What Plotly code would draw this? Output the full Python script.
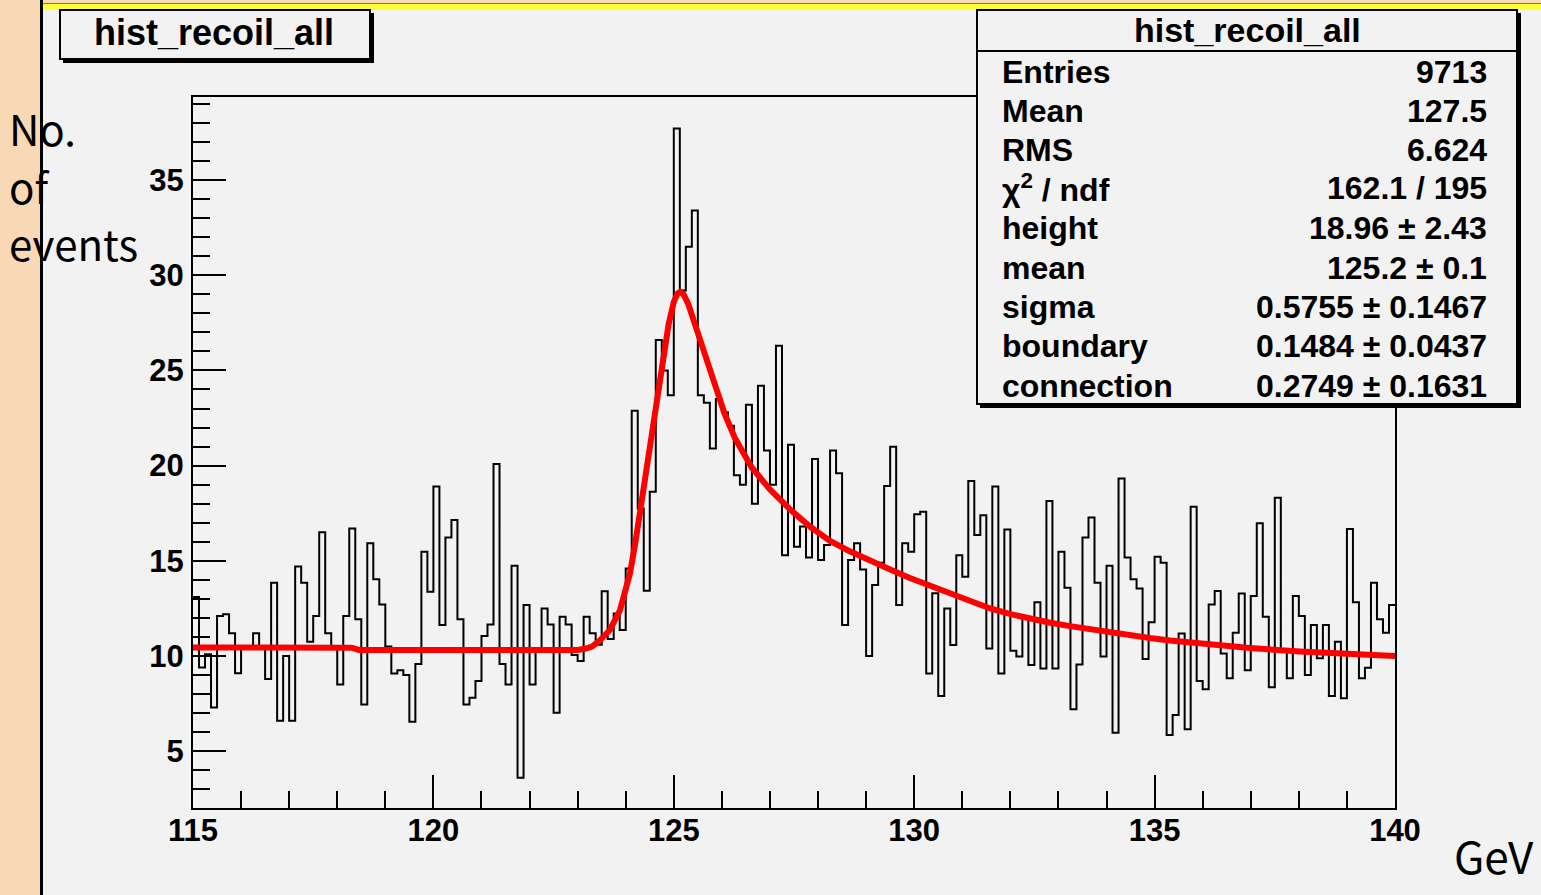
import plotly.graph_objects as go

# ---------------- data ----------------
x_start = 115.0
bin_width = 0.125
counts = [
    13.1, 9.4, 10.1, 7.3, 12.1, 12.2, 11.2, 9.1, 10.4, 10.4, 11.2, 10.4, 8.8, 13.85, 6.6, 10.0, 6.6, 14.7, 13.85, 10.75,
    12.1, 16.5, 11.2, 10.4, 8.5, 12.1, 16.7, 11.93, 7.46, 15.92, 14.03, 12.71, 10.5, 9.09, 9.26, 9.0, 6.55, 9.58, 15.48, 13.38,
    18.9, 11.63, 16.23, 17.14, 11.93, 7.46, 7.81, 8.69, 11.05, 11.66, 20.08, 9.58, 8.51, 14.74, 3.61, 12.68, 8.51, 10.4, 12.5, 11.66,
    7.02, 12.07, 11.66, 10.05, 9.74, 12.07, 11.2, 10.6, 13.4, 10.9, 12.24, 11.37, 14.6, 22.88, 17.75, 13.43, 18.63, 26.6, 25.0, 23.7,
    37.7, 29.2, 31.5, 33.4, 23.7, 23.3, 20.9, 23.5, 22.8, 22.1, 19.5, 19.0, 23.2, 18.0, 24.2, 20.8, 19.0, 26.3, 15.3, 21.1,
    15.74, 16.8, 15.17, 20.35, 15.04, 15.83, 20.8, 19.6, 11.63, 15.04, 15.92, 14.55, 10.0, 13.73, 14.9, 18.93, 20.99, 12.68, 15.92, 15.48,
    17.45, 17.58, 9.09, 13.3, 7.9, 12.5, 10.58, 15.3, 14.17, 19.19, 16.36, 17.4, 10.4, 18.9, 9.09, 16.65, 10.28, 9.97, 12.0, 9.53,
    12.82, 9.35, 18.14, 9.35, 15.48, 13.59, 7.2, 9.56, 16.23, 17.27, 13.85, 9.97, 14.74, 5.97, 19.33, 15.18, 14.03, 13.55, 9.84, 11.77,
    15.22, 14.9, 5.85, 6.9, 11.19, 6.15, 17.84, 8.69, 8.25, 12.71, 13.41, 10.14, 8.83, 11.23, 13.29, 9.26, 13.15, 16.97, 12.07, 8.36,
    18.32, 10.3, 8.83, 13.15, 12.1, 9.0, 11.63, 9.88, 11.63, 7.9, 10.75, 7.78, 16.67, 12.82, 8.83, 9.39, 13.85, 11.93, 11.23, 12.68,
]

fit_x = [115.0, 116.5, 118.3, 118.45, 120.0, 122.0, 123.0, 123.15, 123.3, 123.47, 123.67, 123.88, 123.98, 124.09, 124.2,
         124.3, 124.45, 124.6, 124.75, 124.89, 125.0, 125.08, 125.13, 125.2, 125.3, 125.44, 125.65, 125.86, 126.06, 126.27,
         126.48, 126.62, 127.0, 127.42, 127.83, 128.25, 128.66, 129.08, 129.5, 129.91, 130.33, 130.75, 131.16, 131.58,
         132.0, 132.41, 132.83, 133.24, 133.66, 134.07, 134.49, 134.9, 135.32, 135.74, 136.36, 136.98, 138.02, 138.86,
         139.69, 140.0]
fit_y = [10.45, 10.45, 10.44, 10.32, 10.3, 10.3, 10.32, 10.38, 10.5, 10.84, 11.37, 12.4, 13.25, 14.36, 15.95,
         17.6, 20.2, 22.8, 25.3, 27.4, 28.6, 29.05, 29.13, 29.0, 28.5, 27.4, 25.75, 24.15, 22.7, 21.45,
         20.45, 19.9, 18.75, 17.7, 16.8, 16.05, 15.5, 15.0, 14.55, 14.1, 13.68, 13.25, 12.85, 12.5,
         12.2, 11.95, 11.75, 11.57, 11.4, 11.24, 11.08, 10.95, 10.82, 10.7, 10.54, 10.42, 10.24, 10.12,
         10.03, 10.0]

stat_labels = ["Entries", "Mean", "RMS", "χ<sup>2</sup> / ndf", "height", "mean", "sigma", "boundary", "connection"]
stat_values = ["9713", "127.5", "6.624", "162.1 / 195", "18.96 ± 2.43", "125.2 ± 0.1",
               "0.5755 ± 0.1467", "0.1484 ± 0.0437", "0.2749 ± 0.1631"]
hist_name = "hist_recoil_all"
y_title_lines = ["No.", "of", "events"]
x_unit = "GeV"

# ---------------- geometry ----------------
W, H = 1541, 895
L, R, T, B = 193, 146, 97, 87
PW, PH = W - L - R, H - T - B


def X(px):
    return (px - L) / PW


def Y(py):
    return (H - B - py) / PH


edges = [x_start + i * bin_width for i in range(len(counts) + 1)]
hx = edges
hy = counts + [counts[-1]]

fig = go.Figure()
fig.add_trace(go.Scatter(x=hx, y=hy, mode="lines", line=dict(shape="hv", color="black", width=2),
                         hoverinfo="skip", showlegend=False))
fig.add_trace(go.Scatter(x=fit_x, y=fit_y, mode="lines", line=dict(color="#FF0000", width=6, shape="linear"),
                         hoverinfo="skip", showlegend=False))

FONT = "Liberation Sans, Arial, Helvetica, sans-serif"
axis_common = dict(
    showgrid=False, zeroline=False, showline=True, linecolor="black", linewidth=2, mirror=True,
    ticks="inside", ticklen=33, tickwidth=2, tickcolor="black",
    tickfont=dict(family=FONT, size=31, color="black", weight="bold"),
    minor=dict(ticks="inside", ticklen=17, tickwidth=2, tickcolor="black", dtick=1),
)
fig.update_xaxes(range=[115, 140], tick0=115, dtick=5, ticklabelstandoff=-6, **axis_common)
fig.update_yaxes(range=[2.02, 39.36], tick0=0, dtick=5, ticklabelstandoff=1, **axis_common)

shapes = []


def rect(x0, y0, x1, y1, fill, line_color=None, lw=0, layer="above"):
    d = dict(type="rect", xref="paper", yref="paper", x0=X(x0), x1=X(x1), y0=Y(y1), y1=Y(y0),
             fillcolor=fill, layer=layer, line=dict(width=lw, color=line_color or fill))
    return d


PEACH = "#F9D8B6"
BG = "#F2F2F2"
# outer decorations
shapes.append(rect(0, 0, 41, H, PEACH))
shapes.append(rect(41, 0, W, 3, PEACH))
shapes.append(rect(41, 3, W, 4, "#777777"))
shapes.append(rect(41, 4, W, 10, "#FFFF33"))
shapes.append(rect(40, 0, 43, H, "black"))
# title box with shadow
shapes.append(rect(63, 13, 374, 63, "black"))
shapes.append(rect(60, 10, 370, 59, BG, "black", 2))
# stats box with shadow
shapes.append(rect(980, 13, 1521, 408, "black"))
shapes.append(rect(977, 10, 1517, 404, BG, "black", 2))
shapes.append(dict(type="line", xref="paper", yref="paper", x0=X(977), x1=X(1517), y0=Y(51), y1=Y(51),
                   line=dict(color="black", width=2), layer="above"))

annotations = []


def text(px, py, s, size, anchor="left", family=FONT, weight="bold"):
    annotations.append(dict(xref="paper", yref="paper", x=X(px), y=Y(py), text=s, showarrow=False,
                            xanchor=anchor, yanchor="middle",
                            font=dict(family=family, size=size, color="black", weight=weight)))


text(214, 33, hist_name, 36, "center")
text(1247, 30, hist_name, 34, "center")
row_y = [72, 111, 150, 188, 228, 268, 307, 346, 386]
for lab, val, ry in zip(stat_labels, stat_values, row_y):
    text(1000, ry, lab, 32, "left")
    text(1489, ry, val, 32, "right")

JP = "Noto Sans CJK JP, Noto Sans, sans-serif"
for s, ry in zip(y_title_lines, [128, 185, 243]):
    text(7, ry, s, 42, "left", JP, "normal")
text(1452, 855, x_unit, 44, "left", JP, "normal")

fig.update_layout(
    width=W, height=H, margin=dict(l=L, r=R, t=T, b=B, pad=0),
    paper_bgcolor=BG, plot_bgcolor=BG, shapes=shapes, annotations=annotations,
    showlegend=False,
)
fig.write_html("out.html")
